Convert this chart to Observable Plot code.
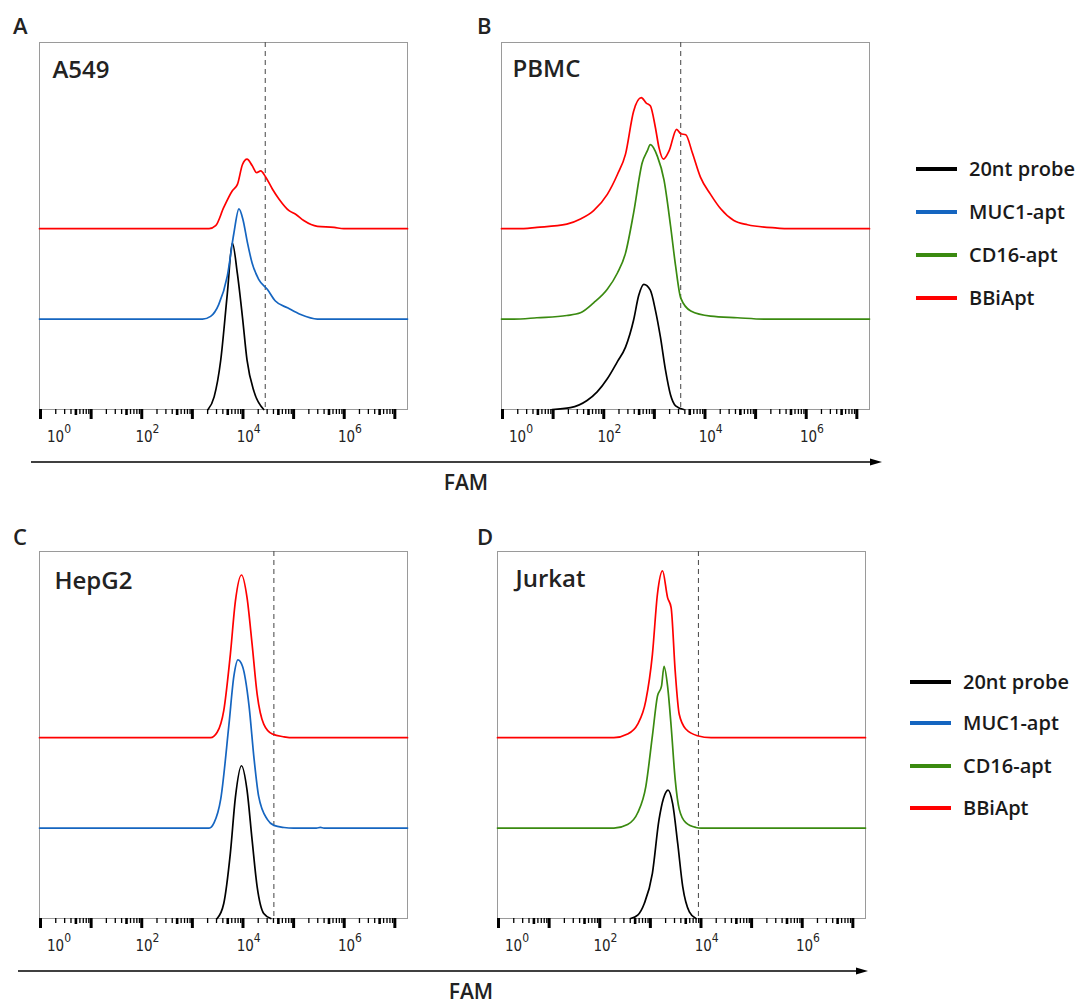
<!DOCTYPE html>
<html><head><meta charset="utf-8">
<script src="https://cdn.jsdelivr.net/npm/d3@7"></script>
<script src="https://cdn.jsdelivr.net/npm/@observablehq/plot@0.6"></script>
<style>
body{margin:0;background:#fff;}
#root{position:relative;width:1088px;height:1005px;overflow:hidden;background:#fff;font-family:"Open Sans",sans-serif;color:#1a1a1a;}
.abs{position:absolute;}
svg{background:transparent !important;}
</style></head><body><div id="root"></div>
<script>
// ---------------- data ----------------
const seriesNames = ["20nt probe", "MUC1-apt", "CD16-apt", "BBiApt"];
const seriesColors = ["#000000", "#1565c0", "#3a8a10", "#ff0000"];
const panelLetters = ["A", "B", "C", "D"];
const cellLines = ["A549", "PBMC", "HepG2", "Jurkat"];
const thresholdExp = [4.44, 3.52, 4.61, 3.95];          // log10 FAM of dashed gate
const xExpRange = [-0.02, 7.25];                          // log10 FAM shown
const majorExps = [0, 1, 2, 3, 4, 5, 6, 7];
const minorMultipliers = [2, 3, 4, 6, 7, 8, 9];
const midMultipliers = [5];
const labelExps = [0, 2, 4, 6];
const panelSeries = [
  ["20nt probe", "MUC1-apt", "BBiApt"],
  ["20nt probe", "CD16-apt", "BBiApt"],
  ["20nt probe", "MUC1-apt", "BBiApt"],
  ["20nt probe", "CD16-apt", "BBiApt"]
];
// histograms: [log10 FAM, height (in units of the stacking offset)]
const A_probe = [[3.31,0],[3.43,0.14],[3.56,0.545],[3.69,1.28],[3.79,1.84],[3.89,1.50],[3.99,1.02],[4.08,0.545],[4.22,0.195],[4.41,0]];
const A_muc1 = [[3.20,0],[3.36,0.03],[3.52,0.16],[3.69,0.475],[3.82,0.95],[3.92,1.22],[4.00,1.10],[4.09,0.84],[4.18,0.62],[4.31,0.44],[4.48,0.33],[4.64,0.20],[4.88,0.125],[5.14,0.05],[5.47,0]];
const A_bbi = [[3.33,0],[3.46,0.033],[3.62,0.235],[3.79,0.42],[3.89,0.49],[3.99,0.71],[4.08,0.77],[4.18,0.70],[4.27,0.62],[4.35,0.64],[4.45,0.57],[4.58,0.44],[4.71,0.33],[4.91,0.20],[5.04,0.16],[5.20,0.09],[5.47,0.026],[5.80,0.015],[5.99,0]];
const B_probe = [[0.98,0],[1.34,0.02],[1.67,0.10],[1.87,0.195],[2.07,0.34],[2.27,0.53],[2.43,0.69],[2.59,0.99],[2.69,1.26],[2.79,1.385],[2.92,1.32],[3.02,1.10],[3.12,0.80],[3.22,0.435],[3.32,0.16],[3.42,0.04],[3.58,0]];
const B_cd16 = [[0.22,0],[0.68,0.015],[1.27,0.04],[1.54,0.07],[1.80,0.18],[2.07,0.33],[2.27,0.51],[2.43,0.73],[2.59,1.175],[2.76,1.73],[2.86,1.86],[2.92,1.93],[3.06,1.80],[3.19,1.54],[3.32,1.03],[3.42,0.585],[3.52,0.235],[3.72,0.09],[4.11,0.033],[4.64,0.015],[5.17,0]];
const B_bbi = [[0.30,0],[0.68,0.015],[1.27,0.05],[1.54,0.107],[1.80,0.20],[2.07,0.38],[2.27,0.60],[2.43,0.825],[2.59,1.30],[2.74,1.45],[2.84,1.39],[2.92,1.36],[3.02,1.12],[3.09,0.90],[3.18,0.77],[3.29,0.86],[3.44,1.10],[3.52,1.05],[3.62,1.04],[3.75,0.84],[3.91,0.57],[4.11,0.38],[4.31,0.22],[4.57,0.09],[4.84,0.044],[5.43,0.007],[5.63,0]];
const C_probe = [[3.49,0],[3.62,0.166],[3.75,0.72],[3.85,1.34],[3.97,1.69],[4.08,1.42],[4.18,0.87],[4.28,0.35],[4.41,0.055],[4.55,0]];
const C_muc1 = [[3.33,0],[3.43,0.06],[3.56,0.32],[3.72,1.13],[3.82,1.68],[3.90,1.86],[3.99,1.79],[4.12,1.35],[4.22,0.76],[4.31,0.35],[4.48,0.096],[4.61,0.03],[4.81,0.007],[5.00,0],[5.45,0],[5.53,0.007],[5.60,0]];
const C_bbi = [[3.36,0],[3.49,0.06],[3.62,0.30],[3.75,0.92],[3.85,1.51],[3.97,1.80],[4.08,1.55],[4.18,1.035],[4.28,0.48],[4.41,0.15],[4.58,0.04],[4.81,0.01],[5.00,0]];
const D_probe = [[2.61,0],[2.75,0.037],[2.88,0.166],[3.04,0.50],[3.17,1.09],[3.26,1.33],[3.35,1.42],[3.44,1.27],[3.54,0.83],[3.64,0.35],[3.77,0.074],[3.90,0]];
const D_cd16 = [[2.28,0],[2.55,0.04],[2.75,0.17],[2.91,0.46],[3.04,1.02],[3.14,1.46],[3.22,1.57],[3.27,1.79],[3.34,1.57],[3.41,1.13],[3.49,0.54],[3.57,0.21],[3.70,0.06],[3.90,0.007],[4.00,0]];
const D_bbi = [[2.28,0],[2.55,0.04],[2.75,0.15],[2.91,0.41],[3.04,0.92],[3.14,1.59],[3.24,1.845],[3.34,1.55],[3.41,1.44],[3.49,0.74],[3.57,0.26],[3.70,0.096],[3.93,0.022],[4.20,0]];
const panelCurves = [[A_probe, A_muc1, A_bbi], [B_probe, B_cd16, B_bbi], [C_probe, C_muc1, C_bbi], [D_probe, D_cd16, D_bbi]];

// ---------------- layout ----------------
const layout = {
  frames: [[39, 42], [501, 42], [39, 551], [497, 551]],
  frameW: 368, frameH: 367, yTop: 4.06,
  mL: 35, mR: 15, mT: 10, mB: 45,
  letterPos: [[13, 14], [477, 14], [13, 525], [477, 525]],
  namePos: [[13, 18], [11, 17], [15, 20], [18, 18]],
  arrows: [[31, 882, 462], [18, 868, 971]],
  fam: [[466, 472], [471, 981]],
  legends: [[916, [169, 212, 255, 298]], [910, [682, 723, 766, 808]]]
};

const root = document.getElementById("root");
const color = {domain: seriesNames, range: seriesColors};

function buildPanel(i) {
  const rows = [];
  panelSeries[i].forEach((name, level) => {
    let pts = panelCurves[i][level];
    if (level > 0) pts = [[xExpRange[0], 0], ...pts, [xExpRange[1], 0]];
    for (const [e, h] of pts) rows.push({series: name, level, e, h});
  });
  const fontTick = "'DejaVu Sans Condensed','DejaVu Sans',sans-serif";
  const W = layout.mL + layout.frameW + layout.mR;
  const H = layout.mT + layout.frameH + layout.mB;
  const minors = [], mids = [];
  for (const e of majorExps) {
    for (const m of minorMultipliers) minors.push(m * 10 ** e);
    for (const m of midMultipliers) mids.push(m * 10 ** e);
  }
  const dom = [10 ** xExpRange[0], 10 ** xExpRange[1]];
  const inDom = v => v >= dom[0] && v <= dom[1];
  const svg = Plot.plot({
    width: W, height: H,
    marginLeft: layout.mL, marginRight: layout.mR, marginTop: layout.mT, marginBottom: layout.mB,
    x: {type: "log", domain: dom},
    y: {domain: [0, layout.yTop], axis: null},
    color,
    style: {background: "transparent", overflow: "visible"},
    marks: [
      Plot.frame({stroke: "#9a9a9a", strokeWidth: 1}),
      Plot.ruleX([10 ** thresholdExp[i]], {stroke: "#555", strokeWidth: 1.1, strokeDasharray: "5,4"}),
      Plot.axisX(majorExps.map(e => 10 ** e), {tickSize: 10, strokeWidth: 3, stroke: "#000", tickFormat: () => "", label: null}),
      Plot.axisX(minors.filter(inDom), {tickSize: 5, strokeWidth: 1.3, stroke: "#000", tickFormat: () => "", label: null}),
      Plot.axisX(mids.filter(inDom), {tickSize: 6, strokeWidth: 2.6, stroke: "#000", tickFormat: () => "", label: null}),
      Plot.text(labelExps.slice(0, 1), {x: e => 10 ** e, text: e => "10^" + e, frameAnchor: "bottom", dy: 32, dx: 18.5, fontSize: 15, fontFamily: fontTick, fill: "#222"}),
      Plot.text(labelExps.slice(1), {x: e => 10 ** e, text: e => "10^" + e, frameAnchor: "bottom", dy: 32, dx: 5.7, fontSize: 15, fontFamily: fontTick, fill: "#222"}),
      Plot.line(rows, {x: d => 10 ** d.e, y: d => d.h + d.level, z: "series", stroke: "series", strokeWidth: 1.7, curve: "monotone-x"}),
      Plot.text([cellLines[i]], {text: d => d, frameAnchor: "top-left", lineAnchor: "top", textAnchor: "start", dx: layout.namePos[i][0], dy: layout.namePos[i][1], fontSize: 24, fontWeight: 600, fontFamily: "'Open Sans',sans-serif", fill: "#222"})
    ]
  });
  d3.select(svg).selectAll("text").each(function () {
    const m = /^10\^(\d+)$/.exec(this.textContent);
    if (!m) return;
    this.textContent = "";
    d3.select(this).append("tspan").attr("font-size", "15px").text("10");
    d3.select(this).append("tspan").attr("dy", "-9").attr("font-size", "12px").text(m[1]);
  });
  svg.style.position = "absolute";
  svg.style.left = (layout.frames[i][0] - layout.mL) + "px";
  svg.style.top = (layout.frames[i][1] - layout.mT) + "px";
  root.appendChild(svg);
}
for (let i = 0; i < 4; i++) buildPanel(i);

// panel letters
panelLetters.forEach((L, i) => {
  const d = document.createElement("div");
  d.className = "abs";
  d.textContent = L;
  Object.assign(d.style, {left: layout.letterPos[i][0] + "px", top: layout.letterPos[i][1] + "px", fontSize: "22px", lineHeight: "1", fontWeight: "600", color: "#222"});
  root.appendChild(d);
});

// FAM axis titles
layout.fam.forEach(([cx, top]) => {
  const d = document.createElement("div");
  d.className = "abs";
  d.textContent = "FAM";
  Object.assign(d.style, {left: cx + "px", top: top + "px", transform: "translateX(-50%)", fontSize: "21px", lineHeight: "1", fontWeight: "600", color: "#222"});
  root.appendChild(d);
});

// arrows
const ns = "http://www.w3.org/2000/svg";
const ov = document.createElementNS(ns, "svg");
ov.setAttribute("width", 1088); ov.setAttribute("height", 1005);
Object.assign(ov.style, {position: "absolute", left: 0, top: 0, pointerEvents: "none"});
layout.arrows.forEach(([x0, x1, y]) => {
  const l = document.createElementNS(ns, "line");
  l.setAttribute("x1", x0); l.setAttribute("x2", x1 - 8); l.setAttribute("y1", y); l.setAttribute("y2", y);
  l.setAttribute("stroke", "#000"); l.setAttribute("stroke-width", 1.6);
  ov.appendChild(l);
  const p = document.createElementNS(ns, "path");
  p.setAttribute("d", `M${x1},${y} L${x1 - 12},${y - 3.5} L${x1 - 12},${y + 3.5} Z`);
  p.setAttribute("fill", "#000");
  ov.appendChild(p);
});
root.appendChild(ov);

// legends
layout.legends.forEach(([lx, ys]) => {
  seriesNames.forEach((name, k) => {
    const row = document.createElement("div");
    row.className = "abs";
    Object.assign(row.style, {left: lx + "px", top: (ys[k] - 12) + "px", height: "24px", display: "flex", alignItems: "center"});
    const sw = document.createElement("span");
    Object.assign(sw.style, {display: "inline-block", width: "41px", height: "4px", background: seriesColors[k], marginRight: "12px"});
    const tx = document.createElement("span");
    tx.textContent = name;
    Object.assign(tx.style, {fontSize: "20px", fontWeight: "600", lineHeight: "1", color: "#1a1a1a"});
    row.appendChild(sw); row.appendChild(tx);
    root.appendChild(row);
  });
});
</script></body></html>
